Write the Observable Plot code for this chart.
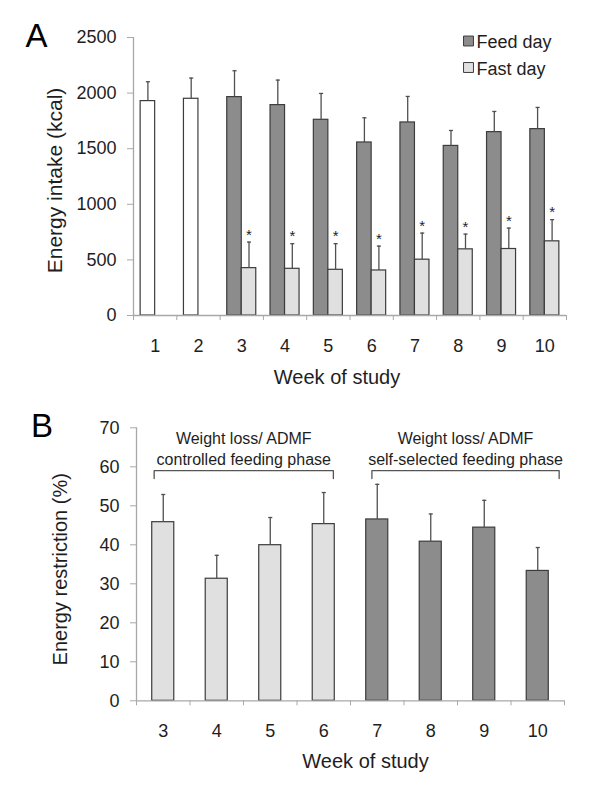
<!DOCTYPE html>
<html>
<head>
<meta charset="utf-8">
<script src="https://cdn.jsdelivr.net/npm/d3@7"></script>
<script src="https://cdn.jsdelivr.net/npm/@observablehq/plot@0.6"></script>
<style>
  html, body { margin: 0; padding: 0; background: #fff; }
  #chart svg { display: block; }
</style>
</head>
<body>
<div id="chart"></div>
<script>
// ---------- Panel A data ----------
const weeksA = [1, 2, 3, 4, 5, 6, 7, 8, 9, 10];
const baselineWeeks = [1, 2];
const feedIntake = [1928, 1949, 1964, 1892, 1760, 1556, 1736, 1525, 1649, 1676];
const feedSD = [174, 186, 237, 225, 237, 222, 234, 139, 186, 195];
const fastIntake = [0, 0, 426, 420, 411, 405, 502, 595, 598, 667];
const fastSD = [null, null, 234, 226, 235, 219, 239, 137, 188, 195];
const significant = [false, false, true, true, true, true, true, true, true, true];
const intakeTicks = [0, 500, 1000, 1500, 2000, 2500];
const seriesLabels = ["Feed day", "Fast day"];

// ---------- Panel B data ----------
const weeksB = [3, 4, 5, 6, 7, 8, 9, 10];
const restriction = [45.8, 31.3, 39.9, 45.3, 46.5, 40.8, 44.4, 33.3];
const restrictionSD = [7.1, 6.0, 7.1, 8.1, 9.0, 7.1, 7.0, 6.0];
const restrictionTicks = [0, 10, 20, 30, 40, 50, 60, 70];
const phaseLine1 = ["Weight loss/ ADMF", "Weight loss/ ADMF"];
const phaseLine2 = ["controlled feeding phase", "self-selected feeding phase"];
const phaseWeeks = [[3, 6], [7, 10]];
const phaseSpan = [[2.83, 6.18], [6.9, 10.4]];

// ---------- styles ----------
const font = "'Liberation Sans', Arial, Helvetica, sans-serif";
const ink = "#1e1e1e";
const axisGray = "#a8a8a8";
const barStroke = "#3c3c3c";
const errColor = "#505050";
const darkFill = "#8c8c8c";
const lightFill = "#e0e0e0";
const whiteFill = "#ffffff";
const capSymbol = {draw(ctx, size) { const w = Math.sqrt(size); ctx.moveTo(-w / 2, 0); ctx.lineTo(w / 2, 0); }};

// ---------- Panel A ----------
const rowsA = weeksA.map((w, i) => ({
  week: w, feed: feedIntake[i], feedSD: feedSD[i], fast: fastIntake[i], fastSD: fastSD[i],
  baseline: baselineWeeks.includes(w), sig: significant[i]
}));
const barWA = 0.335;
const boundariesA = weeksA.map(w => w - 0.5).concat(weeksA[weeksA.length - 1] + 0.5);
const fastWithErr = rowsA.filter(d => d.fastSD != null);

const plotA = Plot.plot({
  width: 600, height: 395,
  marginLeft: 133, marginRight: 34, marginTop: 37, marginBottom: 80,
  style: {fontFamily: font, background: "#fff", color: ink, overflow: "visible"},
  x: {type: "linear", domain: [boundariesA[0], boundariesA[boundariesA.length - 1]]},
  y: {domain: [intakeTicks[0], intakeTicks[intakeTicks.length - 1]]},
  marks: [
    // bars
    Plot.rect(rowsA.filter(d => d.baseline), {x1: d => d.week - barWA, x2: d => d.week, y1: 0, y2: "feed", fill: whiteFill, stroke: barStroke, strokeWidth: 1.2}),
    Plot.rect(rowsA.filter(d => !d.baseline), {x1: d => d.week - barWA, x2: d => d.week, y1: 0, y2: "feed", fill: darkFill, stroke: barStroke, strokeWidth: 1.2}),
    Plot.rect(rowsA, {x1: d => d.week, x2: d => d.week + barWA, y1: 0, y2: "fast", fill: lightFill, stroke: d => d.fastSD == null ? "#cfcfcf" : barStroke, strokeWidth: 1.2}),
    // error bars
    Plot.ruleX(rowsA, {x: d => d.week - barWA / 2, y1: "feed", y2: d => d.feed + d.feedSD, stroke: errColor, strokeWidth: 1.3}),
    Plot.dot(rowsA, {x: d => d.week - barWA / 2, y: d => d.feed + d.feedSD, symbol: capSymbol, r: 2.3, stroke: errColor, strokeWidth: 1.3, fill: "none"}),
    Plot.ruleX(fastWithErr, {x: d => d.week + barWA / 2, y1: "fast", y2: d => d.fast + d.fastSD, stroke: errColor, strokeWidth: 1.3}),
    Plot.dot(fastWithErr, {x: d => d.week + barWA / 2, y: d => d.fast + d.fastSD, symbol: capSymbol, r: 2.3, stroke: errColor, strokeWidth: 1.3, fill: "none"}),
    // significance stars
    Plot.text(rowsA.filter(d => d.sig), {x: d => d.week + barWA / 2, y: d => d.fast + d.fastSD, text: () => "*", dy: -7, fontSize: 15, fill: ink}),
    // axes
    Plot.ruleY([0], {stroke: axisGray, strokeWidth: 1.3}),
    Plot.ruleX([boundariesA[0]], {stroke: axisGray, strokeWidth: 1.3}),
    Plot.axisX({ticks: boundariesA, tickSize: 5, tickFormat: () => "", stroke: axisGray, label: null}),
    Plot.axisX({ticks: weeksA, tickSize: 0, tickPadding: 24, fontSize: 18, fill: ink, label: null, tickFormat: d => String(d)}),
    Plot.axisY({ticks: intakeTicks, tickSize: 6, tickPadding: 11, fontSize: 18, stroke: axisGray, fill: ink, label: null, tickFormat: d => String(d)}),
    // titles
    Plot.text(["Week of study"], {frameAnchor: "bottom", textAnchor: "middle", lineAnchor: "middle", dx: -13, dy: 62, fontSize: 20, fill: ink}),
    Plot.text(["Energy intake (kcal)"], {frameAnchor: "left", textAnchor: "middle", lineAnchor: "middle", rotate: -90, dx: -78, dy: 4, fontSize: 21, fill: ink}),
    Plot.text(["A"], {frameAnchor: "top-left", textAnchor: "start", lineAnchor: "middle", dx: -108, dy: -0.6, fontSize: 33, fill: "#000"}),
    // legend
    Plot.dot([seriesLabels[0]], {frameAnchor: "top-left", dx: 335, dy: 3.5, symbol: "square", r: 5.6, fill: darkFill, stroke: barStroke, strokeWidth: 1}),
    Plot.dot([seriesLabels[1]], {frameAnchor: "top-left", dx: 335, dy: 30, symbol: "square", r: 5.6, fill: lightFill, stroke: barStroke, strokeWidth: 1}),
    Plot.text([seriesLabels[0]], {frameAnchor: "top-left", textAnchor: "start", lineAnchor: "middle", dx: 343, dy: 4.7, fontSize: 18, fill: ink}),
    Plot.text([seriesLabels[1]], {frameAnchor: "top-left", textAnchor: "start", lineAnchor: "middle", dx: 343, dy: 31.5, fontSize: 18, fill: ink})
  ]
});

// ---------- Panel B ----------
const rowsB = weeksB.map((w, i) => ({
  week: w, value: restriction[i], sd: restrictionSD[i],
  controlled: w >= phaseWeeks[0][0] && w <= phaseWeeks[0][1]
}));
const barWB = 0.206;
const boundariesB = weeksB.map(w => w - 0.5).concat(weeksB[weeksB.length - 1] + 0.5);
const phases = phaseLine1.map((l1, i) => ({l1, l2: phaseLine2[i], s: phaseSpan[i][0], e: phaseSpan[i][1], id: i}));
const bracketPts = phases.flatMap(p => [
  {id: p.id, x: p.s, y: 57}, {id: p.id, x: p.s, y: 59}, {id: p.id, x: p.e, y: 59}, {id: p.id, x: p.e, y: 57}
]);

const plotB = Plot.plot({
  width: 600, height: 401,
  marginLeft: 136, marginRight: 36, marginTop: 32.3, marginBottom: 95.7,
  style: {fontFamily: font, background: "#fff", color: ink, overflow: "visible"},
  x: {type: "linear", domain: [boundariesB[0], boundariesB[boundariesB.length - 1]]},
  y: {domain: [restrictionTicks[0], restrictionTicks[restrictionTicks.length - 1]]},
  marks: [
    Plot.rect(rowsB.filter(d => d.controlled), {x1: d => d.week - barWB, x2: d => d.week + barWB, y1: 0, y2: "value", fill: lightFill, stroke: barStroke, strokeWidth: 1.2}),
    Plot.rect(rowsB.filter(d => !d.controlled), {x1: d => d.week - barWB, x2: d => d.week + barWB, y1: 0, y2: "value", fill: darkFill, stroke: barStroke, strokeWidth: 1.2}),
    Plot.ruleX(rowsB, {x: "week", y1: "value", y2: d => d.value + d.sd, stroke: errColor, strokeWidth: 1.3}),
    Plot.dot(rowsB, {x: "week", y: d => d.value + d.sd, symbol: capSymbol, r: 2.3, stroke: errColor, strokeWidth: 1.3, fill: "none"}),
    // phase brackets and labels
    Plot.line(bracketPts, {x: "x", y: "y", z: "id", stroke: "#555", strokeWidth: 1.3}),
    Plot.text(phases, {x: d => (d.s + d.e) / 2, frameAnchor: "top", text: d => d.l1 + "\n" + d.l2, textAnchor: "middle", lineAnchor: "top", dy: 2, lineHeight: 1.28, fontSize: 16, fill: ink}),
    // axes
    Plot.ruleY([0], {stroke: axisGray, strokeWidth: 1.3}),
    Plot.ruleX([boundariesB[0]], {stroke: axisGray, strokeWidth: 1.3}),
    Plot.axisX({ticks: boundariesB, tickSize: 5, tickFormat: () => "", stroke: axisGray, label: null}),
    Plot.axisX({ticks: weeksB, tickSize: 0, tickPadding: 23, fontSize: 18, fill: ink, label: null, tickFormat: d => String(d)}),
    Plot.axisY({ticks: restrictionTicks, tickSize: 6, tickPadding: 11, fontSize: 18, stroke: axisGray, fill: ink, label: null, tickFormat: d => String(d)}),
    Plot.text(["Week of study"], {frameAnchor: "bottom", textAnchor: "middle", lineAnchor: "middle", dx: 15, dy: 60.5, fontSize: 20, fill: ink}),
    Plot.text(["Energy restriction (%)"], {frameAnchor: "left", textAnchor: "middle", lineAnchor: "middle", rotate: -90, dx: -76, dy: 5, fontSize: 20, fill: ink}),
    Plot.text(["B"], {frameAnchor: "top-left", textAnchor: "start", lineAnchor: "middle", dx: -105.5, dy: -1, fontSize: 33, fill: "#000"})
  ]
});

const chart = document.getElementById("chart");
chart.appendChild(plotA);
chart.appendChild(plotB);
</script>
</body>
</html>
